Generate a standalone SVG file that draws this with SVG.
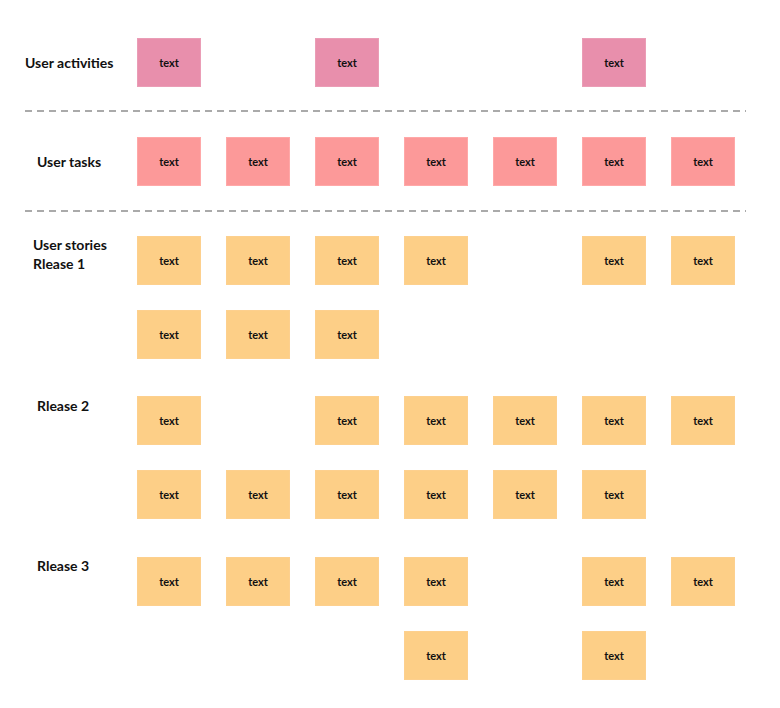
<svg xmlns="http://www.w3.org/2000/svg" width="780" height="708" viewBox="0 0 780 708">
<style>
.lbl{font-family:"Source Sans Pro",Lato,"Liberation Sans",sans-serif;font-weight:bold;font-size:14px;fill:#111}
.t{font-family:"Source Sans Pro",Lato,"Liberation Sans",sans-serif;font-weight:bold;font-size:11px;fill:#111;text-anchor:middle}
.a{fill:#E88FAC;stroke:#EA9DB6;stroke-width:1}
.k{fill:#FC9999;stroke:#FFA8A8;stroke-width:1}
.s{fill:#FDCF87;stroke:#FDD08E;stroke-width:1}
.sep{stroke:#AAAAAA;stroke-width:2;stroke-dasharray:7 5;fill:none}
</style>
<rect width="780" height="708" fill="#fff"/>
<g id="separators">
<line class="sep" x1="25" y1="111" x2="746" y2="111"/>
<line class="sep" x1="25" y1="211" x2="746" y2="211"/>
</g>
<g id="labels">
<text class="lbl" x="25" y="68">User activities</text>
<text class="lbl" x="37" y="167">User tasks</text>
<text class="lbl" x="33" y="250">User stories</text>
<text class="lbl" x="33" y="269">Rlease 1</text>
<text class="lbl" x="37" y="411">Rlease 2</text>
<text class="lbl" x="37" y="571">Rlease 3</text>
</g>
<g id="connectors"></g>
<g id="act-1"><rect class="a" x="137.5" y="38.5" width="63" height="48"/><text class="t" x="169" y="66.5">text</text></g>
<g id="act-2"><rect class="a" x="315.5" y="38.5" width="63" height="48"/><text class="t" x="347" y="66.5">text</text></g>
<g id="act-3"><rect class="a" x="582.5" y="38.5" width="63" height="48"/><text class="t" x="614" y="66.5">text</text></g>
<g id="task-1"><rect class="k" x="137.5" y="137.5" width="63" height="48"/><text class="t" x="169" y="165.5">text</text></g>
<g id="task-2"><rect class="k" x="226.5" y="137.5" width="63" height="48"/><text class="t" x="258" y="165.5">text</text></g>
<g id="task-3"><rect class="k" x="315.5" y="137.5" width="63" height="48"/><text class="t" x="347" y="165.5">text</text></g>
<g id="task-4"><rect class="k" x="404.5" y="137.5" width="63" height="48"/><text class="t" x="436" y="165.5">text</text></g>
<g id="task-5"><rect class="k" x="493.5" y="137.5" width="63" height="48"/><text class="t" x="525" y="165.5">text</text></g>
<g id="task-6"><rect class="k" x="582.5" y="137.5" width="63" height="48"/><text class="t" x="614" y="165.5">text</text></g>
<g id="task-7"><rect class="k" x="671.5" y="137.5" width="63" height="48"/><text class="t" x="703" y="165.5">text</text></g>
<g id="r1a-1"><rect class="s" x="137.5" y="236.5" width="63" height="48"/><text class="t" x="169" y="264.5">text</text></g>
<g id="r1a-2"><rect class="s" x="226.5" y="236.5" width="63" height="48"/><text class="t" x="258" y="264.5">text</text></g>
<g id="r1a-3"><rect class="s" x="315.5" y="236.5" width="63" height="48"/><text class="t" x="347" y="264.5">text</text></g>
<g id="r1a-4"><rect class="s" x="404.5" y="236.5" width="63" height="48"/><text class="t" x="436" y="264.5">text</text></g>
<g id="r1a-6"><rect class="s" x="582.5" y="236.5" width="63" height="48"/><text class="t" x="614" y="264.5">text</text></g>
<g id="r1a-7"><rect class="s" x="671.5" y="236.5" width="63" height="48"/><text class="t" x="703" y="264.5">text</text></g>
<g id="r1b-1"><rect class="s" x="137.5" y="310.5" width="63" height="48"/><text class="t" x="169" y="338.5">text</text></g>
<g id="r1b-2"><rect class="s" x="226.5" y="310.5" width="63" height="48"/><text class="t" x="258" y="338.5">text</text></g>
<g id="r1b-3"><rect class="s" x="315.5" y="310.5" width="63" height="48"/><text class="t" x="347" y="338.5">text</text></g>
<g id="r2a-1"><rect class="s" x="137.5" y="396.5" width="63" height="48"/><text class="t" x="169" y="424.5">text</text></g>
<g id="r2a-3"><rect class="s" x="315.5" y="396.5" width="63" height="48"/><text class="t" x="347" y="424.5">text</text></g>
<g id="r2a-4"><rect class="s" x="404.5" y="396.5" width="63" height="48"/><text class="t" x="436" y="424.5">text</text></g>
<g id="r2a-5"><rect class="s" x="493.5" y="396.5" width="63" height="48"/><text class="t" x="525" y="424.5">text</text></g>
<g id="r2a-6"><rect class="s" x="582.5" y="396.5" width="63" height="48"/><text class="t" x="614" y="424.5">text</text></g>
<g id="r2a-7"><rect class="s" x="671.5" y="396.5" width="63" height="48"/><text class="t" x="703" y="424.5">text</text></g>
<g id="r2b-1"><rect class="s" x="137.5" y="470.5" width="63" height="48"/><text class="t" x="169" y="498.5">text</text></g>
<g id="r2b-2"><rect class="s" x="226.5" y="470.5" width="63" height="48"/><text class="t" x="258" y="498.5">text</text></g>
<g id="r2b-3"><rect class="s" x="315.5" y="470.5" width="63" height="48"/><text class="t" x="347" y="498.5">text</text></g>
<g id="r2b-4"><rect class="s" x="404.5" y="470.5" width="63" height="48"/><text class="t" x="436" y="498.5">text</text></g>
<g id="r2b-5"><rect class="s" x="493.5" y="470.5" width="63" height="48"/><text class="t" x="525" y="498.5">text</text></g>
<g id="r2b-6"><rect class="s" x="582.5" y="470.5" width="63" height="48"/><text class="t" x="614" y="498.5">text</text></g>
<g id="r3a-1"><rect class="s" x="137.5" y="557.5" width="63" height="48"/><text class="t" x="169" y="585.5">text</text></g>
<g id="r3a-2"><rect class="s" x="226.5" y="557.5" width="63" height="48"/><text class="t" x="258" y="585.5">text</text></g>
<g id="r3a-3"><rect class="s" x="315.5" y="557.5" width="63" height="48"/><text class="t" x="347" y="585.5">text</text></g>
<g id="r3a-4"><rect class="s" x="404.5" y="557.5" width="63" height="48"/><text class="t" x="436" y="585.5">text</text></g>
<g id="r3a-6"><rect class="s" x="582.5" y="557.5" width="63" height="48"/><text class="t" x="614" y="585.5">text</text></g>
<g id="r3a-7"><rect class="s" x="671.5" y="557.5" width="63" height="48"/><text class="t" x="703" y="585.5">text</text></g>
<g id="r3b-4"><rect class="s" x="404.5" y="631.5" width="63" height="48"/><text class="t" x="436" y="659.5">text</text></g>
<g id="r3b-6"><rect class="s" x="582.5" y="631.5" width="63" height="48"/><text class="t" x="614" y="659.5">text</text></g>
</svg>
